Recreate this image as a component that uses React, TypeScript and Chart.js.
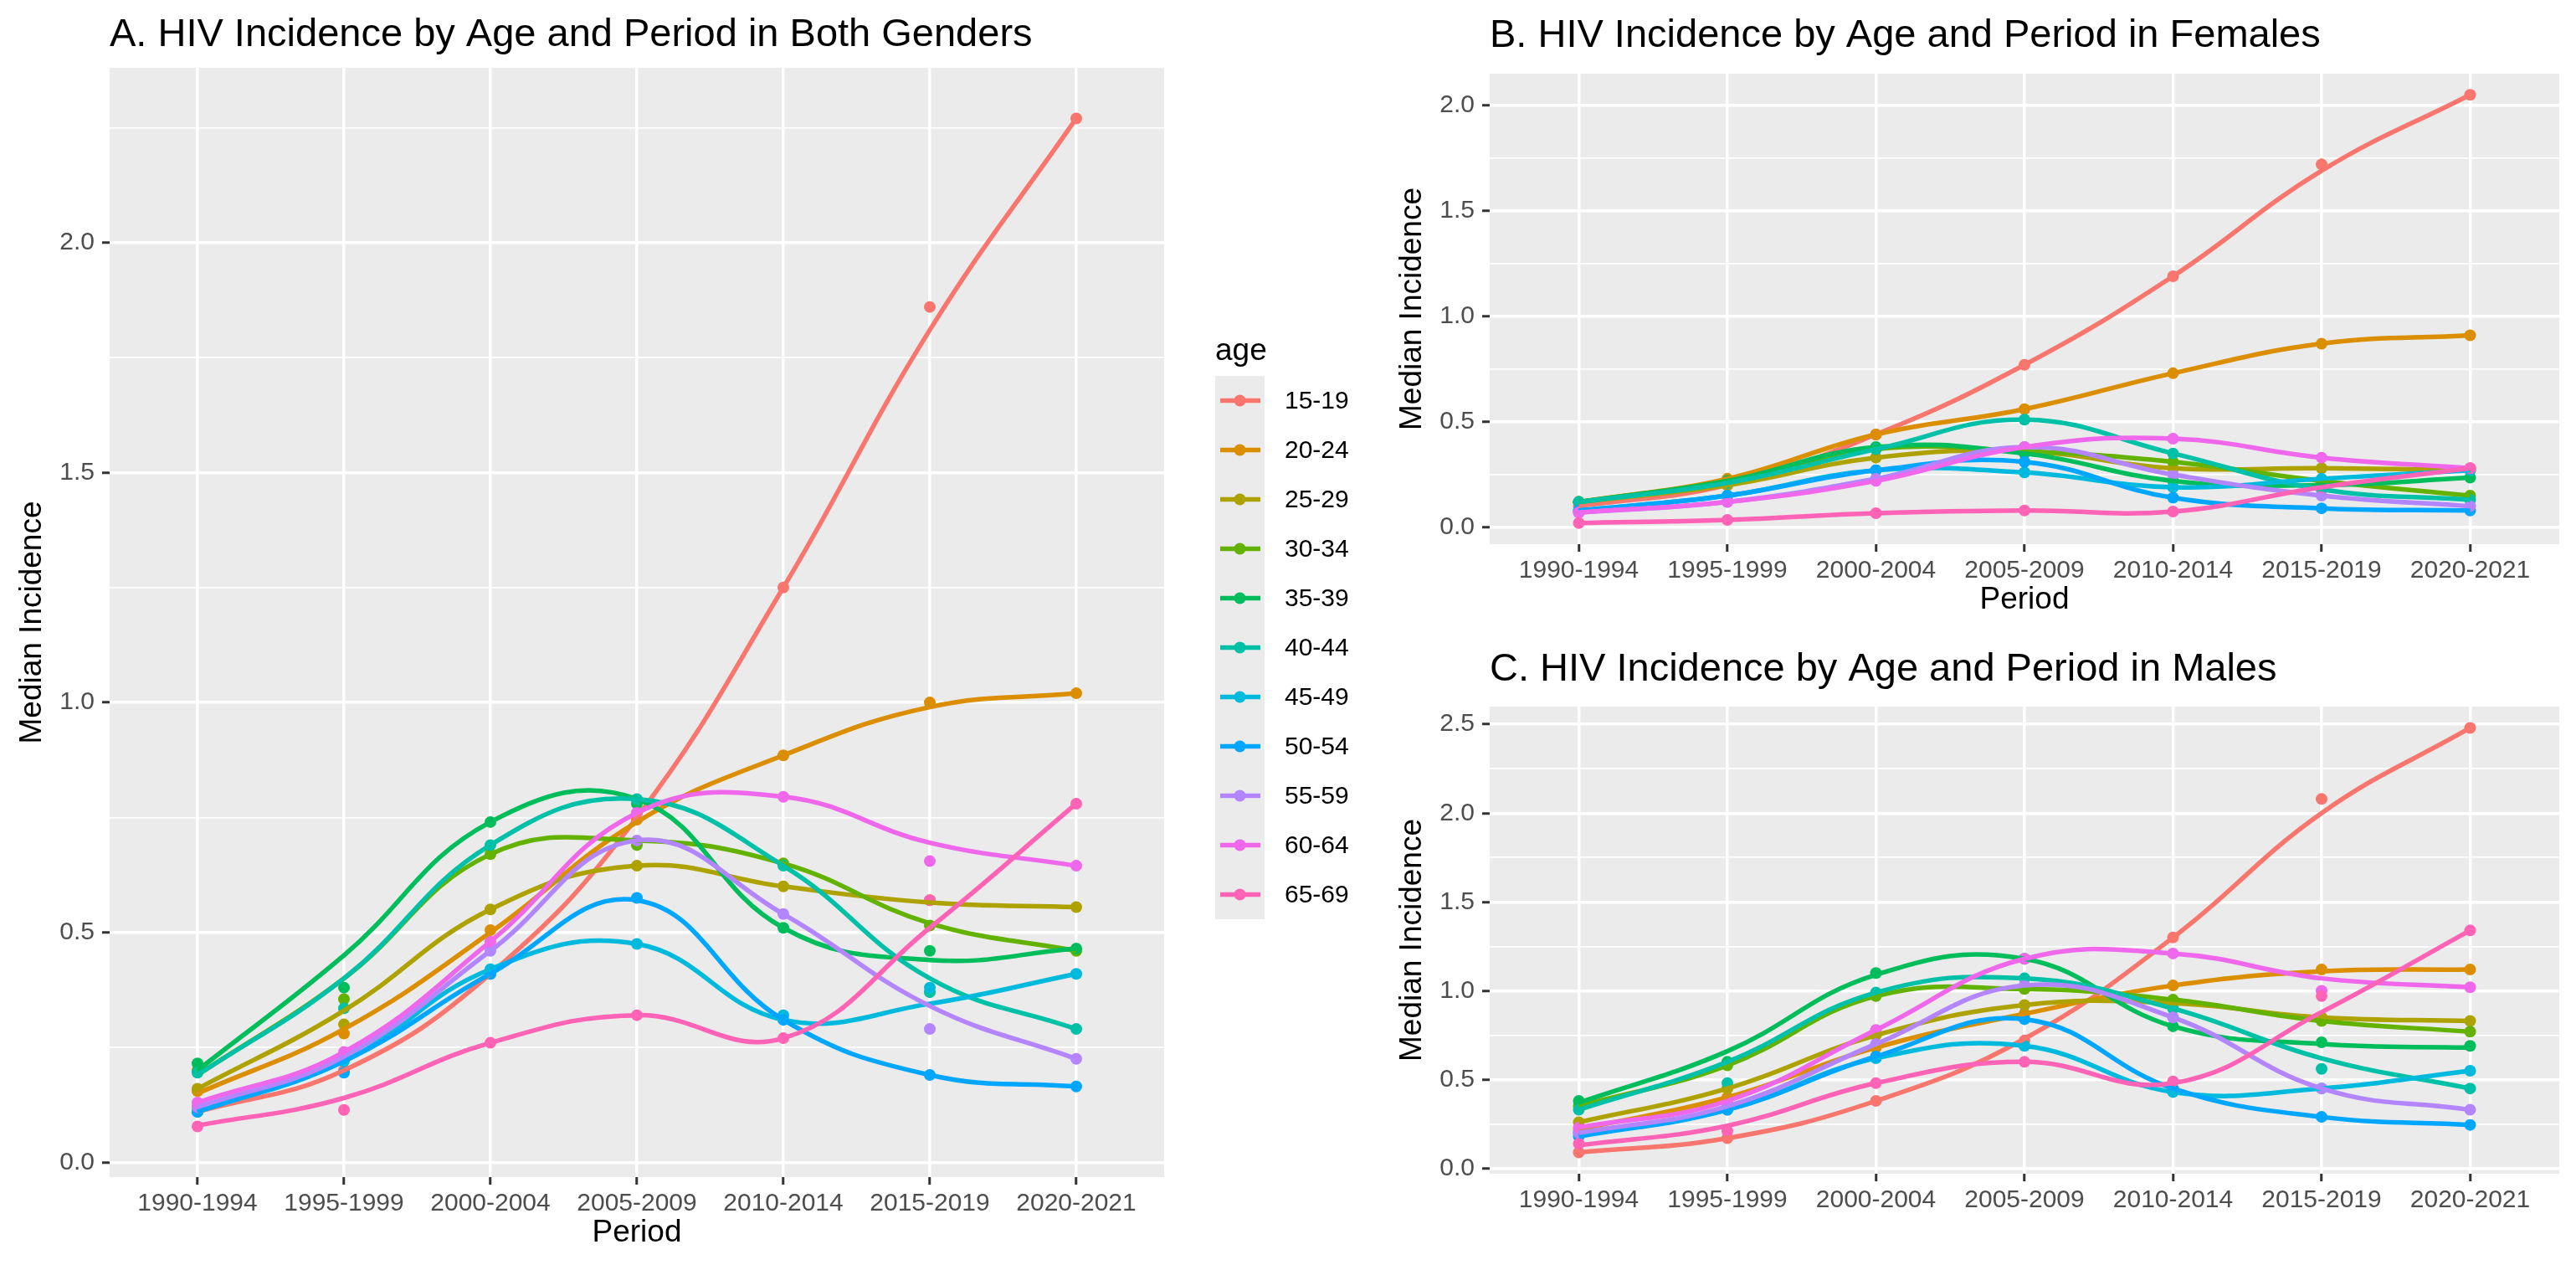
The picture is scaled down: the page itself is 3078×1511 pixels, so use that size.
import React, { useEffect, useRef } from 'react';
import { Chart, registerables } from 'chart.js';

Chart.register(...registerables);

const FONT = '"Liberation Sans", Arial, sans-serif';

const periods = ['1990-1994', '1995-1999', '2000-2004', '2005-2009', '2010-2014', '2015-2019', '2020-2021'];
const ageGroups = ['15-19', '20-24', '25-29', '30-34', '35-39', '40-44', '45-49', '50-54', '55-59', '60-64', '65-69'];
const ageColors = ['#F8766D', '#DB8E00', '#AEA200', '#64B200', '#00BD5C', '#00C1A7', '#00BADE', '#00A6FF', '#B385FF', '#EF67EB', '#FF63B6'];

// Panel A – both genders: smooth-curve values at each period, and observed medians
const bothFit = [
  [0.11, 0.20, 0.41, 0.75, 1.25, 1.81, 2.27],
  [0.15, 0.29, 0.50, 0.74, 0.885, 0.99, 1.02],
  [0.16, 0.33, 0.55, 0.645, 0.60, 0.565, 0.555],
  [0.19, 0.40, 0.67, 0.70, 0.65, 0.52, 0.46],
  [0.20, 0.45, 0.74, 0.79, 0.51, 0.44, 0.465],
  [0.19, 0.40, 0.69, 0.79, 0.645, 0.40, 0.29],
  [0.11, 0.22, 0.42, 0.475, 0.31, 0.345, 0.41],
  [0.11, 0.22, 0.41, 0.57, 0.31, 0.19, 0.165],
  [0.12, 0.23, 0.46, 0.70, 0.54, 0.34, 0.225],
  [0.13, 0.24, 0.48, 0.76, 0.795, 0.695, 0.645],
  [0.08, 0.14, 0.26, 0.32, 0.27, 0.51, 0.78],
];
const bothObs = [
  [0.12, 0.20, 0.41, 0.76, 1.25, 1.86, 2.27],
  [0.155, 0.28, 0.505, 0.745, 0.885, 1.0, 1.02],
  [0.16, 0.30, 0.55, 0.645, 0.60, 0.57, 0.555],
  [0.20, 0.355, 0.67, 0.69, 0.65, 0.515, 0.46],
  [0.215, 0.38, 0.74, 0.78, 0.51, 0.46, 0.465],
  [0.195, 0.335, 0.69, 0.79, 0.645, 0.37, 0.29],
  [0.11, 0.22, 0.42, 0.475, 0.32, 0.38, 0.41],
  [0.11, 0.195, 0.41, 0.575, 0.31, 0.19, 0.165],
  [0.12, 0.23, 0.46, 0.70, 0.54, 0.29, 0.225],
  [0.13, 0.24, 0.48, 0.76, 0.795, 0.655, 0.645],
  [0.078, 0.114, 0.26, 0.32, 0.27, 0.57, 0.78],
];

// Panel B – females
const femaleFit = [
  [0.10, 0.20, 0.44, 0.77, 1.19, 1.69, 2.05],
  [0.12, 0.23, 0.44, 0.56, 0.73, 0.87, 0.91],
  [0.12, 0.20, 0.33, 0.36, 0.28, 0.28, 0.27],
  [0.12, 0.22, 0.37, 0.36, 0.31, 0.22, 0.15],
  [0.12, 0.22, 0.38, 0.35, 0.22, 0.20, 0.235],
  [0.12, 0.21, 0.37, 0.51, 0.35, 0.18, 0.13],
  [0.08, 0.15, 0.27, 0.26, 0.19, 0.23, 0.27],
  [0.08, 0.15, 0.27, 0.31, 0.14, 0.09, 0.08],
  [0.07, 0.12, 0.23, 0.38, 0.25, 0.15, 0.10],
  [0.07, 0.12, 0.22, 0.38, 0.42, 0.33, 0.28],
  [0.02, 0.035, 0.067, 0.08, 0.075, 0.19, 0.28],
];
const femaleObs = [
  [0.10, 0.20, 0.44, 0.77, 1.19, 1.72, 2.05],
  [0.12, 0.23, 0.44, 0.56, 0.73, 0.87, 0.91],
  [0.12, 0.20, 0.33, 0.36, 0.28, 0.28, 0.27],
  [0.12, 0.22, 0.37, 0.36, 0.31, 0.22, 0.15],
  [0.12, 0.22, 0.38, 0.35, 0.22, 0.20, 0.235],
  [0.12, 0.21, 0.37, 0.51, 0.35, 0.18, 0.13],
  [0.08, 0.15, 0.27, 0.26, 0.19, 0.23, 0.27],
  [0.08, 0.15, 0.27, 0.31, 0.14, 0.09, 0.08],
  [0.07, 0.12, 0.23, 0.38, 0.25, 0.15, 0.10],
  [0.07, 0.12, 0.22, 0.38, 0.42, 0.33, 0.28],
  [0.02, 0.035, 0.067, 0.08, 0.075, 0.19, 0.28],
];

// Panel C – males
const maleFit = [
  [0.09, 0.17, 0.38, 0.73, 1.30, 2.00, 2.48],
  [0.22, 0.40, 0.68, 0.87, 1.03, 1.11, 1.12],
  [0.26, 0.45, 0.75, 0.92, 0.93, 0.85, 0.83],
  [0.35, 0.58, 0.97, 1.01, 0.95, 0.83, 0.77],
  [0.37, 0.66, 1.09, 1.18, 0.80, 0.70, 0.68],
  [0.33, 0.60, 0.99, 1.07, 0.90, 0.62, 0.45],
  [0.20, 0.33, 0.62, 0.69, 0.43, 0.45, 0.55],
  [0.18, 0.33, 0.63, 0.84, 0.45, 0.29, 0.245],
  [0.20, 0.35, 0.70, 1.03, 0.85, 0.45, 0.33],
  [0.23, 0.38, 0.78, 1.18, 1.21, 1.07, 1.02],
  [0.13, 0.24, 0.48, 0.60, 0.48, 0.88, 1.34],
];
const maleObs = [
  [0.09, 0.17, 0.38, 0.72, 1.30, 2.08, 2.48],
  [0.22, 0.40, 0.68, 0.87, 1.03, 1.12, 1.12],
  [0.26, 0.45, 0.75, 0.92, 0.93, 0.85, 0.83],
  [0.35, 0.58, 0.97, 1.01, 0.95, 0.83, 0.77],
  [0.38, 0.60, 1.10, 1.18, 0.80, 0.71, 0.69],
  [0.33, 0.48, 0.99, 1.07, 0.90, 0.56, 0.45],
  [0.20, 0.33, 0.62, 0.69, 0.43, 0.45, 0.55],
  [0.18, 0.33, 0.63, 0.84, 0.45, 0.29, 0.245],
  [0.20, 0.35, 0.70, 1.03, 0.85, 0.45, 0.33],
  [0.23, 0.38, 0.78, 1.18, 1.21, 1.00, 1.02],
  [0.14, 0.21, 0.48, 0.60, 0.49, 0.97, 1.34],
];

const yTicksA = [0, 0.25, 0.5, 0.75, 1, 1.25, 1.5, 1.75, 2, 2.25];
const yTicksB = [0, 0.25, 0.5, 0.75, 1, 1.25, 1.5, 1.75, 2];
const yTicksC = [0, 0.25, 0.5, 0.75, 1, 1.25, 1.5, 1.75, 2, 2.25, 2.5];

type PanelCfg = {
  key: string;
  left: number; top: number; w: number; h: number;
  padTop: number; padRight: number; yAxisW: number; xAxisH: number;
  yMin: number; yMax: number; yTicks: number[];
  fit: number[][]; obs: number[][];
  title: string; titleY: number; xTitle: string; legend: boolean;
};

const panels: PanelCfg[] = [
  {
    key: 'A', left: 0, top: 0, w: 1640, h: 1511,
    padTop: 81, padRight: 249, yAxisW: 131, xAxisH: 105,
    yMin: -0.032, yMax: 2.38, yTicks: yTicksA, fit: bothFit, obs: bothObs,
    title: 'A. HIV Incidence by Age and Period in Both Genders', titleY: 42, xTitle: 'Period', legend: true,
  },
  {
    key: 'B', left: 1640, top: 0, w: 1438, h: 760,
    padTop: 88, padRight: 20, yAxisW: 140, xAxisH: 110,
    yMin: -0.08, yMax: 2.15, yTicks: yTicksB, fit: femaleFit, obs: femaleObs,
    title: 'B. HIV Incidence by Age and Period in Females', titleY: 43, xTitle: 'Period', legend: false,
  },
  {
    key: 'C', left: 1640, top: 760, w: 1438, h: 751,
    padTop: 84, padRight: 20, yAxisW: 140, xAxisH: 109,
    yMin: -0.03, yMax: 2.6, yTicks: yTicksC, fit: maleFit, obs: maleObs,
    title: 'C. HIV Incidence by Age and Period in Males', titleY: 40, xTitle: '', legend: false,
  },
];

const isMajor = (v: number) => Math.abs(v * 2 - Math.round(v * 2)) < 1e-6;

const decorPlugin = {
  id: 'panelDecor',
  beforeDraw(chart: any) {
    const { ctx, chartArea: a } = chart;
    ctx.save();
    ctx.fillStyle = '#EBEBEB';
    ctx.fillRect(a.left, a.top, a.right - a.left, a.bottom - a.top);
    ctx.restore();
  },
  afterDraw(chart: any) {
    const cfg: PanelCfg = chart.config.options.panelCfg;
    const { ctx, chartArea: a } = chart;
    ctx.save();
    ctx.fillStyle = '#000000';
    ctx.textBaseline = 'middle';
    // title
    ctx.font = `47px ${FONT}`;
    ctx.textAlign = 'left';
    ctx.fillText(cfg.title, a.left, cfg.titleY);
    // x title
    if (cfg.xTitle) {
      ctx.font = `37px ${FONT}`;
      ctx.textAlign = 'center';
      ctx.fillText(cfg.xTitle, (a.left + a.right) / 2, a.bottom + 67);
    }
    // y title
    ctx.save();
    ctx.translate(a.left - 92, (a.top + a.bottom) / 2);
    ctx.rotate(-Math.PI / 2);
    ctx.font = `37px ${FONT}`;
    ctx.textAlign = 'center';
    ctx.fillText('Median Incidence', 0, 0);
    ctx.restore();
    // legend
    if (cfg.legend) {
      const lx = 1452;
      const ly = 449;
      const kw = 59;
      ctx.font = `37px ${FONT}`;
      ctx.textAlign = 'left';
      ctx.fillText('age', lx, 420);
      ctx.fillStyle = '#EBEBEB';
      ctx.fillRect(lx, ly, kw, kw * ageGroups.length);
      ageGroups.forEach((g, i) => {
        const cy = ly + kw / 2 + kw * i;
        ctx.strokeStyle = ageColors[i];
        ctx.lineWidth = 5.5;
        ctx.beginPath();
        ctx.moveTo(lx + 6, cy);
        ctx.lineTo(lx + kw - 5, cy);
        ctx.stroke();
        ctx.fillStyle = ageColors[i];
        ctx.beginPath();
        ctx.arc(lx + kw / 2, cy, 7, 0, Math.PI * 2);
        ctx.fill();
        ctx.fillStyle = '#000000';
        ctx.font = `30px ${FONT}`;
        ctx.fillText(g, lx + 83, cy + 1);
      });
    }
    ctx.restore();
  },
};

function buildConfig(cfg: PanelCfg): any {
  const datasets: any[] = [];
  ageGroups.forEach((g, i) => {
    datasets.push({
      label: g,
      data: cfg.fit[i].map((v, j) => ({ x: j + 1, y: v })),
      borderColor: ageColors[i],
      backgroundColor: ageColors[i],
      borderWidth: 5.5,
      pointRadius: 0,
      tension: 0.42,
      fill: false,
      order: 10 - i,
    });
    datasets.push({
      label: g + ' obs',
      data: cfg.obs[i].map((v, j) => ({ x: j + 1, y: v })),
      showLine: false,
      pointRadius: 7,
      pointBorderWidth: 0,
      pointBackgroundColor: ageColors[i],
      backgroundColor: ageColors[i],
      borderColor: ageColors[i],
      order: 100 + (10 - i),
    });
  });
  const tickFont = { size: 30, family: FONT };
  return {
    type: 'line',
    data: { datasets },
    plugins: [decorPlugin],
    options: {
      panelCfg: cfg,
      responsive: false,
      maintainAspectRatio: false,
      animation: false,
      devicePixelRatio: 1,
      events: [],
      layout: { padding: { left: 0, right: cfg.padRight, top: cfg.padTop, bottom: 0 } },
      plugins: { legend: { display: false }, title: { display: false }, tooltip: { enabled: false } },
      scales: {
        x: {
          type: 'linear',
          min: 0.4,
          max: 7.6,
          afterBuildTicks: (s: any) => {
            s.ticks = periods.map((_, i) => ({ value: i + 1 }));
          },
          afterFit: (s: any) => {
            s.height = cfg.xAxisH;
          },
          ticks: {
            callback: (v: any) => periods[Math.round(v) - 1] ?? '',
            font: tickFont,
            color: '#4D4D4D',
            padding: 5,
            autoSkip: false,
            maxRotation: 0,
            minRotation: 0,
          },
          grid: { color: '#FFFFFF', lineWidth: 3.5, drawTicks: true, tickLength: 9, tickColor: '#333333', tickWidth: 3 },
          border: { display: false },
        },
        y: {
          type: 'linear',
          min: cfg.yMin,
          max: cfg.yMax,
          afterBuildTicks: (s: any) => {
            s.ticks = cfg.yTicks.map((v) => ({ value: v }));
          },
          afterFit: (s: any) => {
            s.width = cfg.yAxisW;
          },
          ticks: {
            callback: (v: any) => (isMajor(v) ? Number(v).toFixed(1) : ''),
            font: tickFont,
            color: '#4D4D4D',
            padding: 9,
          },
          grid: {
            color: '#FFFFFF',
            lineWidth: (c: any) => (c.tick && isMajor(c.tick.value) ? 3.5 : 1.8),
            drawTicks: true,
            tickLength: 9,
            tickColor: (c: any) => (c.tick && isMajor(c.tick.value) ? '#333333' : 'rgba(0,0,0,0)'),
            tickWidth: 3,
          },
          border: { display: false },
        },
      },
    },
  };
}

function Panel({ cfg }: { cfg: PanelCfg }) {
  const ref = useRef<HTMLCanvasElement>(null);
  useEffect(() => {
    const canvas = ref.current;
    if (!canvas) return;
    const chart = new Chart(canvas, buildConfig(cfg));
    return () => chart.destroy();
  }, [cfg]);
  return (
    <canvas
      ref={ref}
      width={cfg.w}
      height={cfg.h}
      style={{ position: 'absolute', left: cfg.left, top: cfg.top, width: cfg.w, height: cfg.h }}
    />
  );
}

export default function App() {
  useEffect(() => {
    document.body.style.margin = '0';
  }, []);
  return (
    <div style={{ position: 'relative', width: 3078, height: 1511, background: '#FFFFFF', overflow: 'hidden' }}>
      {panels.map((p) => (
        <Panel key={p.key} cfg={p} />
      ))}
    </div>
  );
}
